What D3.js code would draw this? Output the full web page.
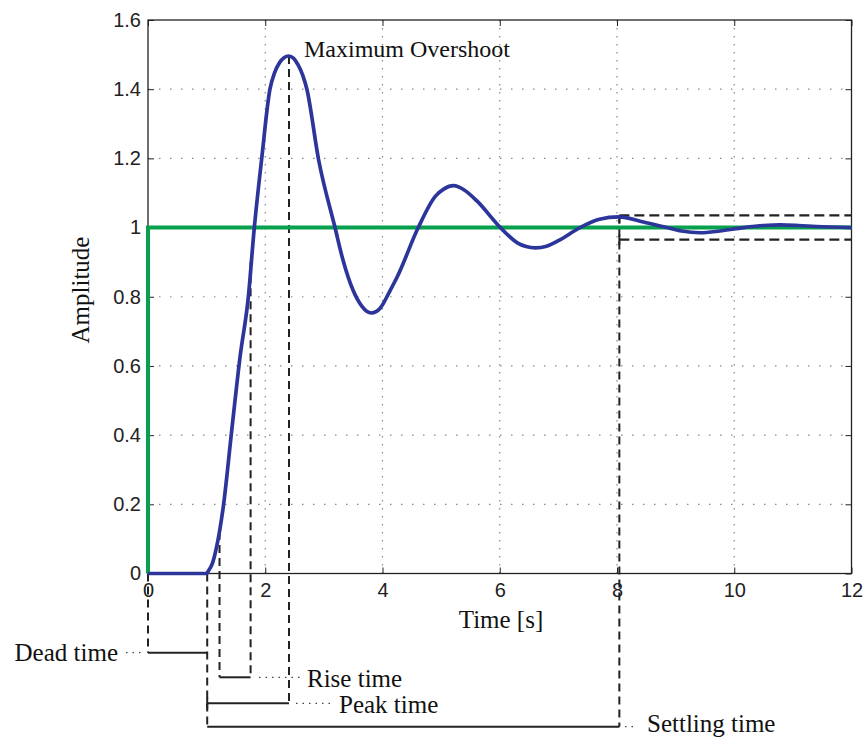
<!DOCTYPE html>
<html>
<head>
<meta charset="utf-8">
<script src="https://cdn.jsdelivr.net/npm/d3@7"></script>
<style>
  html, body { margin: 0; padding: 0; background: #fff; }
  svg { display: block; }
</style>
</head>
<body>
<svg id="chart" width="863" height="738"></svg>
<script>
// ---------- data ----------
const timeS = [0, 1.0, 1.029, 1.10, 1.173, 1.285, 1.429, 1.57, 1.712, 1.808, 1.94, 2.08, 2.16, 2.24, 2.32, 2.40, 2.48, 2.56, 2.64, 2.71, 2.91, 3.19, 3.32, 3.50, 3.65, 3.73, 3.81, 3.89, 3.96, 4.13, 4.25, 4.61, 4.90, 5.05, 5.21, 5.40, 5.61, 6.01, 6.30, 6.45, 6.61, 6.80, 7.00, 7.37, 7.70, 8.03, 8.45, 8.85, 9.10, 9.42, 9.75, 10.16, 10.50, 10.79, 11.10, 11.40, 12];
const response = [0, 0, 0.007, 0.03, 0.079, 0.194, 0.415, 0.626, 0.80, 0.99, 1.20, 1.40, 1.448, 1.476, 1.491, 1.496, 1.49, 1.47, 1.44, 1.40, 1.196, 1.0, 0.91, 0.818, 0.772, 0.758, 0.753, 0.757, 0.767, 0.818, 0.857, 1.0, 1.09, 1.112, 1.121, 1.108, 1.077, 1.0, 0.956, 0.945, 0.941, 0.946, 0.962, 1.0, 1.024, 1.031, 1.016, 1.0, 0.99, 0.985, 0.99, 1.0, 1.006, 1.008, 1.006, 1.003, 1.0];
const stepTime = [0, 0, 12];
const stepValue = [0, 1, 1];

const xTicks = [0, 2, 4, 6, 8, 10, 12];
const xTickLabels = ["0", "2", "4", "6", "8", "10", "12"];
const yTicks = [0, 0.2, 0.4, 0.6, 0.8, 1.0, 1.2, 1.4, 1.6];
const yTickLabels = ["0", "0.2", "0.4", "0.6", "0.8", "1", "1.2", "1.4", "1.6"];

const deadTime = 1.01;
const riseStart = 1.22, riseStartValue = 0.12;
const riseEnd = 1.75, riseEndValue = 0.90;
const peakTime = 2.405, peakValue = 1.496;
const settlingTime = 8.04;
const bandUpper = 1.035, bandLower = 0.965;

const labels = {
  overshoot: "Maximum Overshoot",
  dead: "Dead time",
  rise: "Rise time",
  peak: "Peak time",
  settling: "Settling time",
  xTitle: "Time [s]",
  yTitle: "Amplitude"
};

// ---------- layout ----------
const svg = d3.select("#chart");
const x = d3.scaleLinear().domain([0, 12]).range([148, 851.5]);
const y = d3.scaleLinear().domain([0, 1.6]).range([573.5, 20]);
const serif = "'Liberation Serif', 'Times New Roman', serif";
const sans = "'Liberation Sans', Arial, Helvetica, sans-serif";
const ink = "#222";

// grid
const g = svg.append("g");
g.selectAll(".vgrid").data(xTicks.slice(1, -1)).join("line")
  .attr("x1", d => x(d)).attr("x2", d => x(d))
  .attr("y1", y(1.6)).attr("y2", y(0))
  .attr("stroke", "#888").attr("stroke-width", 1.2)
  .attr("stroke-dasharray", "1.5,6.5");
g.selectAll(".hgrid").data(yTicks.slice(1, -1)).join("line")
  .attr("x1", x(0)).attr("x2", x(12))
  .attr("y1", d => y(d)).attr("y2", d => y(d))
  .attr("stroke", "#888").attr("stroke-width", 1.2)
  .attr("stroke-dasharray", "1.5,9.5");

// axes
function styleAxis(sel) {
  sel.select(".domain").remove();
  sel.selectAll(".tick line").attr("stroke", ink).attr("stroke-width", 1);
  sel.selectAll(".tick text").attr("fill", "#222").attr("font-family", sans).attr("font-size", 20);
}
svg.append("g").attr("transform", `translate(0,${y(0)})`)
  .call(d3.axisBottom(x).tickValues(xTicks).tickSize(-6).tickPadding(9)
    .tickFormat((d, i) => xTickLabels[i]))
  .call(styleAxis);
svg.append("g").attr("transform", `translate(${x(0)},0)`)
  .call(d3.axisLeft(y).tickValues(yTicks).tickSize(-6).tickPadding(7)
    .tickFormat((d, i) => yTickLabels[i]))
  .call(styleAxis);
svg.append("g").attr("transform", `translate(0,${y(1.6)})`)
  .call(d3.axisTop(x).tickValues(xTicks).tickSize(-6).tickFormat(""))
  .call(styleAxis);
svg.append("g").attr("transform", `translate(${x(12)},0)`)
  .call(d3.axisRight(y).tickValues(yTicks).tickSize(-6).tickFormat(""))
  .call(styleAxis);

// frame
svg.append("rect")
  .attr("x", x(0)).attr("y", y(1.6))
  .attr("width", x(12) - x(0)).attr("height", y(0) - y(1.6))
  .attr("fill", "none").attr("stroke", ink).attr("stroke-width", 1.3);

// annotation dashed verticals & brackets
const bDead = 652.7, bRise = 677.3, bPeak = 703.3, bSettle = 726.7;
const dash = "8,5";
const ann = svg.append("g").attr("stroke", ink).attr("stroke-width", 2).attr("fill", "none");
function vdash(t, v0, yEnd) {
  ann.append("line").attr("x1", x(t)).attr("x2", x(t))
    .attr("y1", y(v0)).attr("y2", yEnd).attr("stroke-dasharray", dash);
}
vdash(0, 0, bDead);
vdash(deadTime, 0, bSettle);
vdash(riseStart, riseStartValue, bRise);
vdash(riseEnd, riseEndValue, bRise);
vdash(peakTime, peakValue, bPeak);
vdash(settlingTime, bandUpper, bSettle);

function hline(t0, t1, yy) {
  ann.append("line").attr("x1", x(t0)).attr("x2", x(t1)).attr("y1", yy).attr("y2", yy);
}
hline(0, deadTime, bDead);
hline(riseStart, riseEnd, bRise);
hline(deadTime, peakTime, bPeak);
hline(deadTime, settlingTime, bSettle);
// small solid corners
ann.append("line").attr("x1", x(deadTime)).attr("x2", x(deadTime)).attr("y1", bPeak - 6).attr("y2", bPeak + 6);
ann.append("line").attr("x1", x(settlingTime)).attr("x2", x(settlingTime)).attr("y1", y(bandUpper)).attr("y2", y(bandUpper) + 8);
ann.append("line").attr("x1", x(settlingTime)).attr("x2", x(settlingTime)).attr("y1", y(bandLower) - 5).attr("y2", y(bandLower) + 5);

// settling band
[bandUpper, bandLower].forEach(v => {
  ann.append("line").attr("x1", x(settlingTime)).attr("x2", x(12))
    .attr("y1", y(v)).attr("y2", y(v))
    .attr("stroke-width", 2.2).attr("stroke-dasharray", "10,5");
});

// dotted leaders
function leader(x1, x2, yy) {
  ann.append("line").attr("x1", x1).attr("x2", x2).attr("y1", yy).attr("y2", yy)
    .attr("stroke-width", 1.3).attr("stroke-dasharray", "1.5,5").attr("stroke", "#444");
}
leader(126, 145, bDead);
leader(259, 300, bRise);
leader(296, 331, bPeak);
leader(625, 638, bSettle);

// series
svg.append("path")
  .datum(stepTime.map((t, i) => [t, stepValue[i]]))
  .attr("d", d3.line().x(d => x(d[0])).y(d => y(d[1])))
  .attr("fill", "none").attr("stroke", "#07a04c").attr("stroke-width", 4);

svg.append("path")
  .datum(timeS.map((t, i) => [t, response[i]]))
  .attr("d", d3.line().curve(d3.curveMonotoneX).x(d => x(d[0])).y(d => y(d[1])))
  .attr("fill", "none").attr("stroke", "#2c3599").attr("stroke-width", 3.7)
  .attr("stroke-linejoin", "round");

// texts
const txt = svg.append("g").attr("font-family", serif).attr("font-size", 25).attr("fill", "#111");
txt.append("text").attr("x", 304).attr("y", 57).attr("font-size", 24).text(labels.overshoot);
txt.append("text").attr("x", 118).attr("y", 661).attr("text-anchor", "end").text(labels.dead);
txt.append("text").attr("x", 307).attr("y", 687).text(labels.rise);
txt.append("text").attr("x", 339).attr("y", 713).text(labels.peak);
txt.append("text").attr("x", 647).attr("y", 732).text(labels.settling);
txt.append("text").attr("x", 501).attr("y", 628).attr("text-anchor", "middle").text(labels.xTitle);
txt.append("text").attr("transform", "translate(89,290) rotate(-90)")
  .attr("text-anchor", "middle").text(labels.yTitle);
</script>
</body>
</html>
